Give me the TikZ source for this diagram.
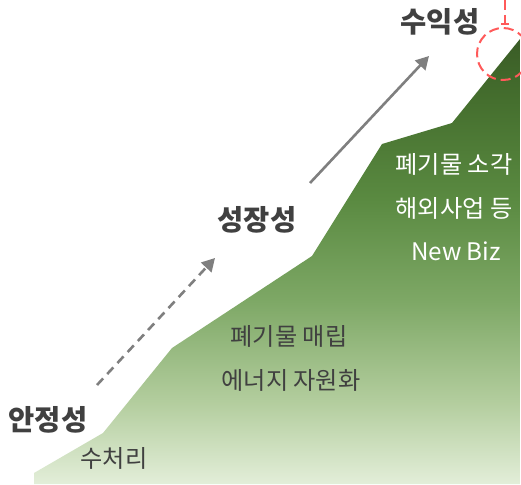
\documentclass[tikz,border=0pt]{standalone}
\usepackage{fontspec}
\setmainfont{Noto Sans CJK KR}
\usetikzlibrary{arrows.meta}

\definecolor{txtgray}{HTML}{404040}
\definecolor{arrgray}{HTML}{7F7F7F}
\definecolor{markred}{HTML}{FF5A5A}
\definecolor{gA}{HTML}{E3EED9}
\definecolor{gB}{HTML}{B4CE9F}
\definecolor{gC}{HTML}{7EA866}
\definecolor{gD}{HTML}{5A8A41}
\definecolor{gE}{HTML}{456F2E}
\definecolor{gF}{HTML}{3A5C26}
\pgfdeclareverticalshading{mountain}{100bp}{color(0bp)=(gA); color(25bp)=(gA);
  color(34bp)=(gB); color(45.5bp)=(gC); color(57bp)=(gD); color(68bp)=(gE);
  color(75bp)=(gF); color(100bp)=(gF)}

\begin{document}
\begin{tikzpicture}[x=1pt, y=-1pt,
    level/.style={font=\fontsize{28.5}{32}\selectfont\bfseries, text=txtgray, inner sep=0pt},
    biz/.style={font=\fontsize{24.2}{28}\selectfont, text=txtgray, inner sep=0pt},
    bizw/.style={biz, text=white},
    arrow/.style={-{Triangle[length=13pt,width=14pt]}, line width=2.6pt, arrgray},
    redmark/.style={markred, line width=2pt, dash pattern=on 10pt off 5pt}]

\useasboundingbox (0,0) rectangle (521,484);
\clip (0,0) rectangle (521,484);

% Mountain
\shade[shading=mountain] (34,473) -- (103,433) -- (172,348) -- (312,256) -- (382,144)
  -- (452,123) -- (520,39) -- (520,484) -- (34,484) -- cycle;

% Levels
\node[level] (stab) at (48,420) {안정성};
\node[level] (grow) at (257,220) {성장성};
\node[level] (prof) at (440,22) {수익성};

% Businesses
\node[biz] (water) at (114,458) {수처리};
\node[biz] (landf) at (289,336) {폐기물 매립};
\node[biz] (energy) at (291,380) {에너지 자원화};
\node[bizw] (incin) at (454,164) {폐기물 소각};
\node[bizw] (abroad) at (454,208) {해외사업 등};
\node[bizw] (newbiz) at (456,251) {New Biz};

% Arrows
\coordinate (a1) at (97,385);
\coordinate (a2) at (215,258);
\coordinate (b1) at (310,183);
\coordinate (b2) at (429,56);
\draw[arrow, dash pattern=on 9pt off 6pt] (a1) -- (a2);
\draw[arrow] (b1) -- (b2);

% Marker at the top
\coordinate (top) at (505,0);
\coordinate (tick) at (505,25);
\node[redmark, draw, circle, minimum size=52pt, inner sep=0pt] (peak) at (503,54) {};
\draw[redmark, line width=1.6pt, -{Bar[width=8pt]}] (top) -- (tick);

\end{tikzpicture}
\end{document}
